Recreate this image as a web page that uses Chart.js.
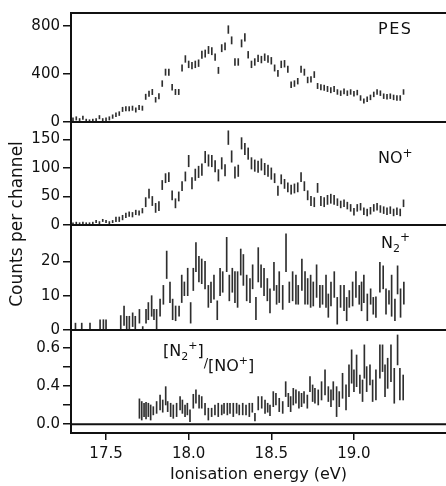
<!DOCTYPE html>
<html lang="en">
<head>
<meta charset="UTF-8">
<title>Ionisation energy spectra</title>
<script src="https://cdn.jsdelivr.net/npm/chart.js"></script>
<style>
  html, body { margin: 0; padding: 0; background: #fff; }
  #grafico { display: block; }
</style>
</head>
<body>
<canvas id="grafico" width="446" height="486"></canvas>

<script>
// channel energies (eV) shared by the PES and NO+ spectra
const channelEnergy = [
  17.30,17.32,17.34,17.36,17.38,17.40,17.42,17.44,17.46,17.48,
  17.50,17.52,17.54,17.56,17.58,17.60,17.62,17.64,17.66,17.68,
  17.70,17.72,17.74,17.76,17.78,17.80,17.82,17.84,17.86,17.88,
  17.90,17.92,17.94,17.96,17.98,18.00,18.02,18.04,18.06,18.08,
  18.10,18.12,18.14,18.16,18.18,18.20,18.22,18.24,18.26,18.28,
  18.30,18.32,18.34,18.36,18.38,18.40,18.42,18.44,18.46,18.48,
  18.50,18.52,18.54,18.56,18.58,18.60,18.62,18.64,18.66,18.68,
  18.70,18.72,18.74,18.76,18.78,18.80,18.82,18.84,18.86,18.88,
  18.90,18.92,18.94,18.96,18.98,19.00,19.02,19.04,19.06,19.08,
  19.10,19.12,19.14,19.16,19.18,19.20,19.22,19.24,19.26,19.28,
  19.30
];

const pesCounts = [
  20,30,15,35,10,5,10,15,40,15,
  20,30,45,60,70,105,110,110,115,100,
  120,115,210,235,250,185,215,320,415,415,
  290,250,250,450,525,480,470,480,490,560,
  570,600,590,540,430,615,630,770,680,500,
  500,655,705,560,480,500,530,520,540,525,
  510,450,405,480,485,440,310,320,340,440,
  415,350,355,395,300,290,285,275,265,275,
  250,240,255,240,250,235,245,200,175,190,
  205,230,250,240,215,210,215,205,200,200,
  250
];
const pesError = [
  14,14,14,14,14,14,14,14,14,14,
  14,14,15,16,16,18,18,18,18,18,
  18,18,22,22,22,20,22,24,26,26,
  24,22,22,26,28,28,28,28,28,30,
  30,30,30,28,26,30,30,32,30,28,
  28,30,32,28,28,28,28,28,28,28,
  28,26,26,28,28,26,24,24,24,26,
  26,24,24,25,22,22,22,22,22,22,
  20,20,22,20,20,20,20,20,18,20,
  20,20,20,20,20,20,20,20,20,20,
  20
];

const noCounts = [
  2,3,2,3,2,2,3,6,4,8,
  6,4,6,10,10,13,17,19,18,22,
  21,25,40,55,42,30,33,70,82,84,
  52,38,50,68,85,112,73,88,93,97,
  119,113,112,103,87,108,96,153,120,92,
  95,143,133,125,108,104,102,106,98,95,
  90,82,60,80,72,66,62,64,66,84,
  68,52,42,40,65,42,40,44,46,44,
  40,36,38,34,30,23,30,32,24,22,
  25,30,32,28,26,24,26,22,24,22,
  38
];
const noError = [
  2,2,2,2,2,2,2,2,2,2,
  2,2,2,4,4,4,4,4,4,4,
  4,4,8,8,8,8,8,8,8,8,
  8,8,8,8,8,10,10,10,10,10,
  10,10,10,10,10,10,10,12,10,10,
  10,10,10,10,10,10,10,10,10,10,
  10,8,8,8,8,8,8,8,8,8,
  8,8,8,8,8,8,8,8,8,8,
  6,6,6,6,6,6,6,6,6,6,
  6,6,6,6,6,6,6,6,6,6,
  6
];

// N2+ counts, read as lower / upper ends of each bar
const n2Energy = [
  17.315,17.353,17.403,17.464,17.484,17.500,17.589,17.609,17.625,17.641,
  17.661,17.677,17.702,17.722,17.742,17.756,17.776,17.790,17.806,17.827,
  17.847,17.867,17.887,17.903,17.921,17.942,17.958,17.974,17.994,18.012,
  18.028,18.044,18.062,18.079,18.099,18.119,18.135,18.153,18.173,18.190,
  18.206,18.230,18.246,18.264,18.280,18.296,18.315,18.331,18.351,18.371,
  18.387,18.407,18.421,18.438,18.456,18.476,18.492,18.516,18.532,18.548,
  18.569,18.589,18.609,18.629,18.649,18.663,18.685,18.704,18.720,18.738,
  18.754,18.774,18.794,18.810,18.831,18.845,18.861,18.881,18.899,18.919,
  18.940,18.956,18.972,18.992,19.012,19.032,19.046,19.060,19.081,19.101,
  19.117,19.133,19.157,19.177,19.194,19.212,19.228,19.248,19.264,19.282,
  19.302
];
const n2Low = [
  0,0,0,0,0,0,0,1.3,0,0,
  1,0,2,0,2,3,4,3,0,4,
  7.5,15,8,3,2.7,4,8,10,10,2,
  11.5,17,14,13.5,12,6.6,8,9,3,10,
  11,17,8.5,11,8,6.6,16,13,8.5,8,
  12,3,14,12.4,10,8.5,5,11.5,7.5,8,
  6,17,8,8.5,7.5,7.5,11.5,7.5,7.5,6.6,
  7,9.5,6.6,7.5,6.6,3.7,7,9.5,1.7,6.6,
  5.6,2.7,6.6,7,9.5,7.5,5.6,8,2.7,7.5,
  4.6,3.7,11,12,4.6,7.5,4,2.7,10.5,3.7,
  7.5
];
const n2High = [
  2,2,2,3,3,3,4.2,7,4,4,
  5,4,6,1,6,8,10,6,6,9,
  13,23,14,9,7,7,16,14,18,8,
  18,25.5,21.5,20.7,20,13,14,16,8.5,18,
  17,27,16,18,17,17,23.6,22,16,15,
  19,9.5,24,19,18,15,12,19.7,13,17,
  13,28,14,17,16,13,20.7,17,15,16,
  14,19,13,13,16,10.5,14,17,9.5,13,
  13,9.5,11.5,14,17,13,14,16,10.5,12,
  9.5,9.7,19.7,18.7,12,11.5,16,9,18.7,12,
  14
];

// [N2+]/[NO+] ratio, lower / upper ends of each bar
const ratioEnergy = [
  17.702,17.716,17.730,17.742,17.756,17.770,17.786,17.806,17.827,17.843,
  17.861,17.873,17.891,17.907,17.927,17.948,17.962,17.978,17.992,18.008,
  18.028,18.044,18.063,18.079,18.099,18.119,18.139,18.159,18.179,18.200,
  18.214,18.234,18.250,18.270,18.290,18.306,18.327,18.347,18.367,18.385,
  18.401,18.421,18.442,18.462,18.478,18.492,18.512,18.528,18.548,18.569,
  18.587,18.603,18.617,18.633,18.649,18.667,18.683,18.698,18.718,18.734,
  18.750,18.764,18.784,18.804,18.825,18.845,18.861,18.875,18.895,18.911,
  18.931,18.952,18.970,18.986,19.000,19.016,19.036,19.052,19.063,19.077,
  19.097,19.113,19.133,19.157,19.173,19.188,19.204,19.224,19.244,19.264,
  19.278,19.298
];
const ratioLow = [
  0.231,0.222,0.240,0.228,0.240,0.222,0.249,0.257,0.275,0.263,
  0.301,0.266,0.240,0.231,0.240,0.275,0.257,0.240,0.249,0.214,
  0.284,0.310,0.284,0.284,0.249,0.222,0.240,0.249,0.240,0.249,
  0.257,0.249,0.257,0.240,0.257,0.249,0.249,0.249,0.240,0.263,
  0.217,0.275,0.284,0.257,0.263,0.245,0.292,0.301,0.266,0.257,
  0.345,0.292,0.266,0.301,0.310,0.284,0.292,0.310,0.284,0.371,
  0.319,0.310,0.301,0.327,0.353,0.319,0.292,0.327,0.240,0.292,
  0.336,0.275,0.345,0.415,0.371,0.397,0.362,0.319,0.441,0.371,
  0.406,0.319,0.327,0.441,0.476,0.345,0.388,0.423,0.310,0.511,
  0.327,0.327
];
const ratioHigh = [
  0.333,0.319,0.310,0.315,0.310,0.301,0.292,0.319,0.353,0.327,
  0.397,0.319,0.310,0.301,0.310,0.345,0.327,0.301,0.310,0.275,
  0.357,0.380,0.353,0.345,0.310,0.284,0.284,0.301,0.310,0.301,
  0.310,0.310,0.310,0.310,0.310,0.301,0.310,0.301,0.310,0.310,
  0.257,0.345,0.345,0.327,0.310,0.301,0.371,0.362,0.336,0.319,
  0.423,0.362,0.345,0.388,0.380,0.371,0.362,0.371,0.353,0.450,
  0.406,0.388,0.380,0.423,0.485,0.397,0.380,0.423,0.397,0.371,
  0.467,0.406,0.511,0.590,0.485,0.563,0.458,0.432,0.616,0.502,
  0.511,0.432,0.485,0.616,0.616,0.511,0.546,0.616,0.493,0.668,
  0.493,0.458
];

// tick values and labels
const energyTicks = [17.5, 18.0, 18.5, 19.0];
const pesTicks = [0, 400, 800];
const noTicks = [0, 50, 100, 150];
const n2Ticks = [0, 10, 20];
const ratioTicks = [0.2, 0.3, 0.4, 0.5, 0.6];
const ratioTickLabels = ['0.0', '', '0.4', '', '0.6'];
</script>

<script>
  const FONT = 'DejaVu Sans';
  const INK = '#111';

  function fromError(xs, ys, errs) {
    return xs.map((x, i) => ({ x: x, y: [Math.max(0, ys[i] - errs[i]), ys[i] + errs[i]] }));
  }
  function fromRange(xs, lo, hi) {
    return xs.map((x, i) => ({ x: x, y: [lo[i], hi[i]] }));
  }

  function bars(data, axis) {
    return {
      data: data,
      yAxisID: axis,
      backgroundColor: '#2e2e2e',
      borderWidth: 0,
      barThickness: 1,
      grouped: false
    };
  }

  function yPanel(min, max, ticks, labels, weight, order) {
    return {
      type: 'linear',
      position: 'left',
      stack: 'panels',
      stackWeight: weight,
      weight: order,
      min: min,
      max: max,
      afterBuildTicks: s => { s.ticks = ticks.map(v => ({ value: v })); },
      afterFit: s => { s.width = 71; },
      ticks: {
        autoSkip: false,
        callback: (v, i) => labels ? labels[i] : String(v),
        font: { family: FONT, size: 15 },
        color: INK,
        padding: 3
      },
      grid: { drawOnChartArea: false, tickLength: 8, color: INK, lineWidth: 1.5 },
      border: { display: true, color: INK, width: 2 }
    };
  }

  function rich(ctx, x, y, parts) {
    for (const [text, size, dy] of parts) {
      ctx.font = size + 'px "' + FONT + '"';
      ctx.fillText(text, x, y + dy);
      x += ctx.measureText(text).width;
    }
  }

  // frame lines, baselines, the shared y title and the panel labels
  const panelDecor = {
    id: 'panelDecor',
    afterDatasetsDraw(chart) {
      const { ctx, chartArea: a, scales } = chart;
      ctx.save();
      ctx.strokeStyle = INK;
      ctx.lineWidth = 2;
      const hline = (x0, y, x1) => { ctx.beginPath(); ctx.moveTo(x0, y); ctx.lineTo(x1, y); ctx.stroke(); };
      hline(a.left - 1, a.top, a.right);
      hline(a.left, scales.yPes.getPixelForValue(0), a.right);
      hline(a.left, scales.yNo.getPixelForValue(0), a.right);
      hline(a.left, scales.yN2.getPixelForValue(0), a.right);
      hline(a.left, scales.yRatio.getPixelForValue(0.2), a.right);

      ctx.fillStyle = INK;
      ctx.textAlign = 'center';
      ctx.textBaseline = 'middle';
      ctx.save();
      ctx.translate(18, 224);
      ctx.rotate(-Math.PI / 2);
      ctx.font = '17px "' + FONT + '"';
      ctx.fillText('Counts per channel', 0, 0);
      ctx.restore();

      ctx.textAlign = 'left';
      ctx.textBaseline = 'alphabetic';
      ctx.letterSpacing = '1.5px';
      rich(ctx, 378, 33.5, [['PES', 16, 0]]);
      ctx.letterSpacing = '0px';
      rich(ctx, 378, 163, [['NO', 16, 0], ['+', 12, -6]]);
      rich(ctx, 381, 248, [['N', 16, 0], ['2', 11, 4], ['+', 12, -7]]);
      rich(ctx, 163, 356, [['[N', 16, 0], ['2', 11, 4], ['+', 11, -7], [']', 16, 0],
                           ['/', 13, 11], ['[NO', 16, 15], ['+', 11, 8], [']', 16, 15]]);
      ctx.restore();
    }
  };

  new Chart(document.getElementById('grafico'), {
    type: 'bar',
    data: {
      datasets: [
        bars(fromError(channelEnergy, pesCounts, pesError), 'yPes'),
        bars(fromError(channelEnergy, noCounts, noError), 'yNo'),
        bars(fromRange(n2Energy, n2Low, n2High), 'yN2'),
        bars(fromRange(ratioEnergy, ratioLow, ratioHigh), 'yRatio')
      ]
    },
    options: {
      responsive: false,
      animation: false,
      devicePixelRatio: 1,
      layout: { padding: { top: 13, left: 0, right: 0, bottom: 0 } },
      plugins: { legend: { display: false }, tooltip: { enabled: false } },
      scales: {
        x: {
          type: 'linear',
          min: 17.288,
          max: 19.557,
          offset: false,
          afterBuildTicks: s => { s.ticks = energyTicks.map(v => ({ value: v })); },
          afterFit: s => { s.height = 53; },
          ticks: {
            autoSkip: false,
            callback: v => v.toFixed(1),
            font: { family: FONT, size: 15 },
            color: INK,
            padding: 5,
            maxRotation: 0
          },
          grid: { drawOnChartArea: false, offset: false, tickLength: 7, color: INK, lineWidth: 1.5 },
          border: { display: true, color: INK, width: 2 },
          title: {
            display: true,
            text: 'Ionisation energy (eV)',
            font: { family: FONT, size: 16 },
            color: INK,
            padding: { top: 2, bottom: 2 }
          }
        },
        yPes: yPanel(0, 908, pesTicks, null, 109, 4),
        yNo: yPanel(0, 180.4, noTicks, null, 103, 3),
        yN2: yPanel(0, 30.6, n2Ticks, null, 105, 2),
        yRatio: yPanel(0.154, 0.694, ratioTicks, ratioTickLabels, 103, 1)
      }
    },
    plugins: [panelDecor]
  });
</script>
</body>
</html>
